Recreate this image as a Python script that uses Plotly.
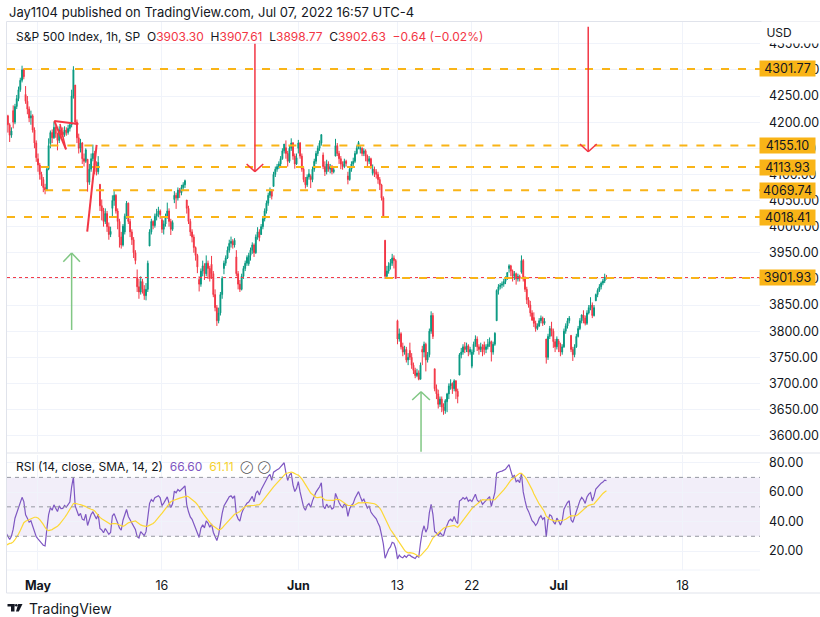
import numpy as np
import pandas as pd
import plotly.graph_objects as go
from plotly.subplots import make_subplots

# ---------------- data (1h bars, 7 per session) ----------------
dates = ["2022-04-21", "2022-04-22", "2022-04-25", "2022-04-26", "2022-04-27", "2022-04-28", "2022-04-29",
         "2022-05-02", "2022-05-03", "2022-05-04", "2022-05-05", "2022-05-06",
         "2022-05-09", "2022-05-10", "2022-05-11", "2022-05-12", "2022-05-13",
         "2022-05-16", "2022-05-17", "2022-05-18", "2022-05-19", "2022-05-20",
         "2022-05-23", "2022-05-24", "2022-05-25", "2022-05-26", "2022-05-27",
         "2022-05-31", "2022-06-01", "2022-06-02", "2022-06-03",
         "2022-06-06", "2022-06-07", "2022-06-08", "2022-06-09", "2022-06-10",
         "2022-06-13", "2022-06-14", "2022-06-15", "2022-06-16", "2022-06-17",
         "2022-06-21", "2022-06-22", "2022-06-23", "2022-06-24",
         "2022-06-27", "2022-06-28", "2022-06-29", "2022-06-30", "2022-07-01",
         "2022-07-05", "2022-07-06", "2022-07-07"]

day_open = [4489, 4385, 4256, 4279, 4186, 4222, 4253,
            4130, 4159, 4181, 4271, 4129,
            4081, 4035, 3990, 3903, 3963,
            4013, 4052, 4051, 3899, 3928,
            3920, 3942, 3929, 3985, 4077,
            4151, 4150, 4096, 4137,
            4135, 4097, 4148, 4102, 3974,
            3820, 3763, 3765, 3728, 3665,
            3716, 3733, 3774, 3820,
            3920, 3913, 3826, 3785, 3781,
            3792, 3831, 3858]

hour_close = [
    [4505, 4490, 4470, 4450, 4430, 4410, 4394],
    [4370, 4350, 4335, 4330, 4310, 4290, 4272],
    [4225, 4215, 4235, 4250, 4265, 4280, 4296],
    [4255, 4240, 4230, 4215, 4210, 4195, 4175],
    [4220, 4232, 4205, 4212, 4195, 4175, 4183],
    [4200, 4230, 4245, 4262, 4280, 4300, 4287],
    [4240, 4225, 4208, 4212, 4185, 4160, 4132],
    [4118, 4100, 4090, 4075, 4070, 4110, 4155],
    [4180, 4170, 4190, 4178, 4165, 4185, 4175],
    [4176, 4185, 4180, 4188, 4195, 4250, 4300],
    [4200, 4170, 4150, 4160, 4130, 4125, 4147],
    [4085, 4110, 4130, 4140, 4118, 4105, 4123],
    [4040, 4030, 4010, 4025, 4000, 3985, 3991],
    [4050, 4060, 4030, 4010, 3980, 3965, 4001],
    [4020, 4045, 4010, 3990, 3975, 3950, 3935],
    [3885, 3875, 3895, 3880, 3868, 3880, 3930],
    [3990, 4010, 4002, 4020, 4025, 4030, 4023],
    [3995, 4005, 4020, 4030, 4010, 3995, 4008],
    [4060, 4055, 4070, 4065, 4075, 4080, 4088],
    [4035, 4010, 3990, 3980, 3960, 3945, 3923],
    [3890, 3915, 3925, 3910, 3930, 3920, 3901],
    [3910, 3870, 3845, 3820, 3835, 3870, 3901],
    [3930, 3940, 3955, 3968, 3972, 3965, 3974],
    [3910, 3890, 3880, 3905, 3920, 3930, 3941],
    [3945, 3955, 3965, 3950, 3980, 3990, 3979],
    [4000, 4015, 4030, 4045, 4060, 4070, 4058],
    [4100, 4110, 4115, 4120, 4130, 4145, 4158],
    [4140, 4125, 4150, 4160, 4135, 4120, 4132],
    [4160, 4135, 4110, 4090, 4080, 4095, 4101],
    [4090, 4110, 4125, 4140, 4150, 4160, 4176],
    [4115, 4105, 4120, 4110, 4115, 4105, 4109],
    [4155, 4140, 4130, 4120, 4115, 4125, 4121],
    [4090, 4110, 4120, 4125, 4140, 4150, 4161],
    [4150, 4140, 4145, 4135, 4125, 4130, 4116],
    [4110, 4105, 4100, 4090, 4080, 4055, 4018],
    [3905, 3915, 3925, 3930, 3940, 3935, 3901],
    [3785, 3795, 3770, 3760, 3765, 3745, 3750],
    [3750, 3735, 3725, 3715, 3720, 3708, 3735],
    [3760, 3775, 3745, 3755, 3800, 3830, 3790],
    [3690, 3680, 3660, 3670, 3655, 3648, 3667],
    [3680, 3695, 3700, 3690, 3705, 3685, 3675],
    [3755, 3760, 3770, 3765, 3772, 3760, 3765],
    [3760, 3775, 3785, 3770, 3765, 3770, 3760],
    [3765, 3770, 3775, 3780, 3760, 3775, 3796],
    [3878, 3885, 3888, 3890, 3895, 3900, 3912],
    [3925, 3915, 3905, 3910, 3900, 3905, 3901],
    [3935, 3900, 3880, 3860, 3850, 3835, 3821],
    [3815, 3805, 3810, 3820, 3825, 3815, 3819],
    [3750, 3790, 3805, 3800, 3780, 3770, 3785],
    [3775, 3760, 3770, 3800, 3810, 3820, 3825],
    [3765, 3755, 3770, 3790, 3805, 3820, 3831],
    [3825, 3815, 3835, 3845, 3850, 3830, 3845],
    [3870, 3878, 3885, 3892, 3896, 3903.30, 3902.63],
]

hour_high = [
    [4513, 4508, 4495, 4472, 4452, 4432, 4412],
    [4385, 4375, 4355, 4345, 4335, 4312, 4295],
    [4256, 4230, 4240, 4255, 4270, 4285, 4299],
    [4279, 4262, 4248, 4235, 4222, 4215, 4200],
    [4225, 4240, 4234, 4218, 4214, 4198, 4190],
    [4232, 4235, 4252, 4268, 4285, 4308, 4303],
    [4269, 4250, 4230, 4222, 4215, 4190, 4165],
    [4140, 4122, 4105, 4095, 4082, 4115, 4169],
    [4184, 4186, 4200, 4192, 4180, 4192, 4190],
    [4190, 4192, 4190, 4195, 4200, 4262, 4307],
    [4271, 4205, 4178, 4168, 4162, 4140, 4150],
    [4129, 4120, 4140, 4157, 4145, 4125, 4135],
    [4081, 4052, 4036, 4035, 4030, 4008, 4000],
    [4060, 4068, 4062, 4035, 4015, 3990, 4005],
    [4025, 4049, 4046, 4015, 3995, 3980, 3955],
    [3918, 3900, 3905, 3900, 3888, 3892, 3935],
    [3995, 4015, 4012, 4025, 4034, 4038, 4033],
    [4018, 4012, 4025, 4046, 4035, 4015, 4012],
    [4068, 4065, 4075, 4074, 4080, 4085, 4090],
    [4051, 4040, 4015, 3995, 3985, 3962, 3948],
    [3905, 3920, 3935, 3930, 3945, 3935, 3925],
    [3944, 3915, 3880, 3850, 3845, 3875, 3905],
    [3935, 3945, 3962, 3975, 3981, 3976, 3978],
    [3955, 3915, 3898, 3910, 3925, 3935, 3945],
    [3950, 3960, 3970, 3968, 3985, 3999, 3995],
    [4005, 4020, 4035, 4050, 4065, 4075, 4072],
    [4105, 4115, 4120, 4125, 4135, 4150, 4158],
    [4165, 4145, 4155, 4169, 4162, 4140, 4140],
    [4166, 4162, 4140, 4115, 4095, 4100, 4110],
    [4100, 4115, 4130, 4145, 4155, 4165, 4177],
    [4142, 4125, 4128, 4125, 4120, 4118, 4115],
    [4168, 4160, 4145, 4135, 4125, 4130, 4128],
    [4105, 4115, 4125, 4132, 4145, 4155, 4164],
    [4154, 4152, 4150, 4148, 4138, 4135, 4132],
    [4119, 4115, 4110, 4105, 4095, 4082, 4058],
    [3974, 3925, 3932, 3938, 3948, 3945, 3938],
    [3822, 3805, 3798, 3778, 3772, 3770, 3758],
    [3778, 3758, 3740, 3730, 3728, 3725, 3740],
    [3772, 3780, 3778, 3760, 3805, 3838, 3835],
    [3728, 3698, 3688, 3675, 3675, 3662, 3670],
    [3682, 3700, 3708, 3702, 3708, 3706, 3690],
    [3758, 3768, 3775, 3779, 3778, 3775, 3770],
    [3765, 3780, 3792, 3790, 3775, 3778, 3775],
    [3780, 3775, 3785, 3788, 3782, 3780, 3798],
    [3880, 3890, 3892, 3895, 3900, 3905, 3913],
    [3928, 3927, 3918, 3915, 3912, 3910, 3908],
    [3945, 3938, 3905, 3885, 3865, 3858, 3840],
    [3836, 3820, 3815, 3825, 3830, 3828, 3825],
    [3785, 3795, 3810, 3818, 3805, 3785, 3790],
    [3785, 3778, 3775, 3805, 3815, 3825, 3829],
    [3792, 3770, 3775, 3795, 3810, 3825, 3832],
    [3840, 3830, 3840, 3850, 3865, 3855, 3850],
    [3872, 3882, 3890, 3895, 3900, 3910, 3907.61],
]

hour_low = [
    [4485, 4482, 4462, 4440, 4420, 4400, 4393],
    [4360, 4345, 4330, 4320, 4300, 4285, 4267],
    [4215, 4201, 4210, 4230, 4245, 4260, 4275],
    [4250, 4235, 4225, 4210, 4200, 4190, 4175],
    [4186, 4212, 4200, 4198, 4180, 4162, 4170],
    [4188, 4196, 4225, 4240, 4258, 4276, 4282],
    [4235, 4215, 4200, 4195, 4180, 4150, 4124],
    [4105, 4090, 4078, 4066, 4062, 4068, 4108],
    [4150, 4160, 4168, 4170, 4146, 4160, 4168],
    [4171, 4172, 4174, 4176, 4182, 4190, 4245],
    [4195, 4160, 4140, 4142, 4120, 4115, 4122],
    [4067, 4080, 4105, 4125, 4100, 4098, 4100],
    [4030, 4012, 4000, 4005, 3990, 3975, 3980],
    [4020, 4040, 4025, 3995, 3960, 3958, 3962],
    [3985, 4015, 4005, 3980, 3965, 3940, 3928],
    [3875, 3862, 3870, 3872, 3860, 3859, 3875],
    [3963, 3985, 3995, 3998, 4012, 4018, 4015],
    [3988, 3985, 4000, 4015, 4000, 3984, 3992],
    [4045, 4034, 4050, 4055, 4060, 4068, 4074],
    [4025, 4005, 3982, 3970, 3950, 3935, 3911],
    [3876, 3885, 3905, 3898, 3905, 3900, 3895],
    [3900, 3865, 3838, 3810, 3815, 3830, 3862],
    [3909, 3925, 3938, 3950, 3960, 3958, 3960],
    [3905, 3880, 3875, 3878, 3900, 3915, 3925],
    [3925, 3935, 3948, 3942, 3948, 3975, 3972],
    [3984, 3995, 4010, 4025, 4040, 4055, 4052],
    [4077, 4095, 4105, 4110, 4115, 4128, 4140],
    [4130, 4115, 4122, 4145, 4128, 4111, 4118],
    [4140, 4130, 4105, 4085, 4073, 4076, 4090],
    [4074, 4085, 4105, 4120, 4135, 4145, 4155],
    [4110, 4097, 4100, 4105, 4102, 4100, 4102],
    [4135, 4135, 4120, 4110, 4109, 4112, 4115],
    [4081, 4088, 4105, 4115, 4122, 4138, 4148],
    [4140, 4135, 4135, 4125, 4115, 4120, 4110],
    [4098, 4095, 4092, 4082, 4070, 4050, 4018],
    [3900, 3900, 3910, 3918, 3925, 3920, 3900],
    [3775, 3780, 3765, 3752, 3755, 3740, 3735],
    [3745, 3728, 3718, 3710, 3712, 3706, 3708],
    [3735, 3750, 3723, 3740, 3750, 3795, 3785],
    [3685, 3670, 3652, 3655, 3645, 3640, 3642],
    [3645, 3670, 3688, 3680, 3685, 3670, 3662],
    [3716, 3748, 3755, 3758, 3760, 3752, 3755],
    [3729, 3755, 3770, 3762, 3755, 3760, 3752],
    [3755, 3758, 3765, 3770, 3742, 3755, 3772],
    [3820, 3870, 3880, 3882, 3885, 3890, 3898],
    [3912, 3905, 3895, 3898, 3889, 3895, 3895],
    [3910, 3895, 3875, 3852, 3845, 3828, 3820],
    [3808, 3799, 3802, 3808, 3815, 3810, 3812],
    [3738, 3745, 3785, 3790, 3768, 3760, 3765],
    [3760, 3752, 3755, 3768, 3795, 3805, 3815],
    [3760, 3743, 3750, 3768, 3788, 3802, 3815],
    [3815, 3811, 3812, 3832, 3840, 3825, 3828],
    [3858, 3865, 3875, 3880, 3888, 3892, 3898.77],
]

future_days = ["2022-07-08", "2022-07-11", "2022-07-12", "2022-07-13", "2022-07-14", "2022-07-15",
               "2022-07-18", "2022-07-19", "2022-07-20", "2022-07-21", "2022-07-22"]

tick_days = ["2022-05-02", "2022-05-16", "2022-06-01", "2022-06-13", "2022-06-22", "2022-07-01", "2022-07-18"]
tick_text = ["<b>May</b>", "16", "<b>Jun</b>", "13", "22", "<b>Jul</b>", "18"]

level_values = [4301.77, 4155.10, 4113.93, 4069.74, 4018.41, 3901.93]
level_start = [None, ("2022-05-03", 0), None, ("2022-05-02", 4), None, ("2022-06-10", 0)]

legend_ohlc = ["3903.30", "3907.61", "3898.77", "3902.63"]
legend_change = "−0.64 (−0.02%)"
rsi_last, rsi_ma_last = "66.60", "61.11"
last_price = 3902.63

BARS = 7
price_range = [3568.8, 4391.6]
rsi_range = [7.1, 85.2]

# ---------------- build series ----------------
all_days = dates + future_days
def bar_index(day, hour=0):
    return all_days.index(day) * BARS + hour

xs, o, h, l, c = [], [], [], [], []
for d, day in enumerate(dates):
    prev = day_open[d]
    for k in range(BARS):
        cc = hour_close[d][k]
        oo = prev
        xs.append(bar_index(day, k))
        o.append(oo)
        c.append(cc)
        h.append(max(hour_high[d][k], oo, cc))
        l.append(min(hour_low[d][k], oo, cc))
        prev = cc

closes = np.array(c, float)

def rsi_wilder(vals, n=14):
    d = np.diff(vals)
    up = np.where(d > 0, d, 0.0)
    dn = np.where(d < 0, -d, 0.0)
    out = np.full(len(vals), np.nan)
    au, ad = up[:n].mean(), dn[:n].mean()
    out[n] = 100.0 if ad == 0 else 100 - 100 / (1 + au / ad)
    for i in range(n + 1, len(vals)):
        au = (au * (n - 1) + up[i - 1]) / n
        ad = (ad * (n - 1) + dn[i - 1]) / n
        out[i] = 100.0 if ad == 0 else 100 - 100 / (1 + au / ad)
    return out

rsi = rsi_wilder(closes)
rsi_ma = pd.Series(rsi).rolling(14).mean().to_numpy()

may2 = bar_index("2022-05-02")
x_left = may2 - 17.5
x_right = may2 + 407.7

# ---------------- figure ----------------
W, H = 820, 617
ML, MR, MT, MB = 7, 60, 22, 47
PW, PH = W - ML - MR, H - MT - MB

def px(xp):
    return (xp - ML) / PW

def py(yp):
    return (H - MB - yp) / PH

fig = make_subplots(rows=2, cols=1, shared_xaxes=True, vertical_spacing=0)

GREEN, RED = "#089981", "#F23645"
fig.add_trace(go.Candlestick(
    x=xs, open=o, high=h, low=l, close=c,
    increasing=dict(line=dict(color=GREEN, width=1), fillcolor=GREEN),
    decreasing=dict(line=dict(color=RED, width=1), fillcolor=RED),
    whiskerwidth=0, showlegend=False, hoverinfo="skip"), row=1, col=1)

fig.add_trace(go.Scatter(x=xs, y=rsi, mode="lines", line=dict(color="#7E57C2", width=1.2),
                         showlegend=False, hoverinfo="skip"), row=2, col=1)
fig.add_trace(go.Scatter(x=xs, y=rsi_ma, mode="lines", line=dict(color="#FDD835", width=1.2),
                         showlegend=False, hoverinfo="skip"), row=2, col=1)

tick_vals = [bar_index(dd) for dd in tick_days]
GRID = "#F0F3FA"
TXT = "#131722"
FONT = "Inter, Roboto, sans-serif"

fig.update_xaxes(range=[x_left, x_right], tickvals=tick_vals, ticktext=tick_text,
                 showgrid=True, gridcolor=GRID, gridwidth=1, zeroline=False,
                 showline=False, ticks="", rangeslider_visible=False, automargin=False)
fig.update_xaxes(showticklabels=False, row=1, col=1)
fig.update_xaxes(showticklabels=True, tickfont=dict(size=12.5, color=TXT, family=FONT),
                 ticklabelstandoff=6, row=2, col=1)

fig.update_yaxes(side="right", range=price_range, tickvals=list(range(3600, 4400, 50)),
                 tickformat=".2f", showgrid=True, gridcolor=GRID, zeroline=False, automargin=False,
                 tickfont=dict(size=12.5, color=TXT, family=FONT), ticks="",
                 ticklabelstandoff=8, row=1, col=1)
fig.update_yaxes(side="right", range=rsi_range, tickvals=[20, 40, 60, 80], tickformat=".2f",
                 showgrid=True, gridcolor=GRID, zeroline=False, automargin=False,
                 tickfont=dict(size=12.5, color=TXT, family=FONT), ticks="",
                 ticklabelstandoff=8, row=2, col=1)

fig.layout.yaxis.domain = [py(452), 1.0]
fig.layout.yaxis2.domain = [0.0, py(455)]

shapes = []
# RSI band and levels
shapes.append(dict(type="rect", xref="x2 domain", yref="y2", x0=0, x1=1, y0=30, y1=70,
                   fillcolor="rgba(126,87,194,0.10)", line=dict(width=0), layer="below"))
for lv in (70, 50, 30):
    shapes.append(dict(type="line", xref="x2 domain", yref="y2", x0=0, x1=1, y0=lv, y1=lv,
                       line=dict(color="#9598A1", width=1, dash="4px,4px")))
# last price dotted line
shapes.append(dict(type="line", xref="x", yref="y", x0=x_left, x1=x_right, y0=last_price, y1=last_price,
                   line=dict(color=RED, width=1, dash="dot")))
# orange horizontal levels
ORANGE = "#F9B417"
for val, st in zip(level_values, level_start):
    x0 = x_left if st is None else bar_index(*st)
    shapes.append(dict(type="line", xref="x", yref="y", x0=x0, x1=x_right, y0=val, y1=val,
                       line=dict(color=ORANGE, width=2, dash="8px,9px")))

def seg(x0, y0, x1, y1, color, width=1.5):
    shapes.append(dict(type="line", xref="x", yref="y", x0=x0, y0=y0, x1=x1, y1=y1,
                       line=dict(color=color, width=width)))

# drawings: red down arrows
ARROW_RED = "#F23645"
seg(171.5, 4350, 171.5, 4105.2, ARROW_RED)
seg(166.8, 4119.9, 171.5, 4105.2, ARROW_RED)
seg(176.2, 4119.9, 171.5, 4105.2, ARROW_RED)
seg(359.7, 4382.6, 359.7, 4143.4, ARROW_RED)
seg(355.0, 4158.2, 359.7, 4143.4, ARROW_RED)
seg(364.5, 4158.2, 359.7, 4143.4, ARROW_RED)
# green up arrows
ARROW_GREEN = "#81C784"
seg(68.0, 3802.3, 68.0, 3949.6, ARROW_GREEN)
seg(63.3, 3933.0, 68.0, 3949.6, ARROW_GREEN)
seg(72.7, 3933.0, 68.0, 3949.6, ARROW_GREEN)
seg(265.3, 3569.5, 265.3, 3684.2, ARROW_GREEN)
seg(260.3, 3668.3, 265.3, 3684.2, ARROW_GREEN)
seg(270.3, 3668.3, 265.3, 3684.2, ARROW_GREEN)
# red trend sketches
seg(58.2, 4202.2, 71.8, 4196.5, "#F23645", 2)
seg(58.2, 4202.2, 64.8, 4148.0, "#F23645", 2)
seg(61.4, 4196.5, 64.8, 4148.0, "#F23645", 1.5)
seg(76.8, 3990.4, 82.1, 4156.3, "#F23645", 2)

# frame lines (paper, pixel-based)
BORDER = "#E0E3EB"
def pline(x0, y0, x1, y1, color=BORDER, width=1):
    shapes.append(dict(type="line", xref="paper", yref="paper", x0=px(x0), y0=py(y0),
                       x1=px(x1), y1=py(y1), line=dict(color=color, width=width)))
pline(6.5, 21.5, 820, 21.5)
pline(6.5, 21.5, 6.5, 593)
pline(6.5, 593, 820, 593)
pline(7, 453, 820, 453)
pline(7, 570, 760, 570, "#F0F3FA")

# TradingView logo
shapes.append(dict(type="rect", xref="paper", yref="paper", x0=px(7.5), x1=px(14.5), y0=py(604), y1=py(606.5),
                   fillcolor="#131722", line=dict(width=0)))
shapes.append(dict(type="rect", xref="paper", yref="paper", x0=px(11), x1=px(14.5), y0=py(604), y1=py(611.5),
                   fillcolor="#131722", line=dict(width=0)))
shapes.append(dict(type="circle", xref="paper", yref="paper", x0=px(15), x1=px(17.6), y0=py(604), y1=py(606.6),
                   fillcolor="#131722", line=dict(width=0)))
shapes.append(dict(type="path", xref="paper", yref="paper",
                   path=f"M {px(18.2)} {py(604)} L {px(22.5)} {py(604)} L {px(18.8)} {py(611.5)} L {px(16.0)} {py(611.5)} Z",
                   fillcolor="#131722", line=dict(width=0)))

annotations = []
def ann(xp, yp, text, size=12, color=TXT, xanchor="left", **kw):
    annotations.append(dict(xref="paper", yref="paper", x=px(xp), y=py(yp), text=text, showarrow=False,
                            xanchor=xanchor, yanchor="middle", font=dict(size=size, color=color, family=FONT), **kw))

ann(7, 12, "Jay1104 published on TradingView.com, Jul 07, 2022 16:57 UTC-4", size=13)
r = lambda s: f"<span style='color:{RED}'>{s}</span>"
ann(14, 36, "S&amp;P 500 Index, 1h, SP  O" + r(legend_ohlc[0]) + "  H" + r(legend_ohlc[1]) +
    "  L" + r(legend_ohlc[2]) + "  C" + r(legend_ohlc[3]) + "  " + r(legend_change), size=12)
ann(14, 466, "RSI (14, close, SMA, 14, 2)  <span style='color:#7E57C2'>" + rsi_last +
    "</span>  <span style='color:#F5D130'>" + rsi_ma_last +
    "</span>  <span style='color:#555;font-size:9px'>⊘  ⊘</span>", size=12)
ann(761, 32, " USD", size=12, bgcolor="white", width=57, height=19, align="left")
for val in level_values:
    annotations.append(dict(xref="paper", yref="y", x=px(759), y=val, text=f"{val:.2f}", showarrow=False,
                            xanchor="left", yanchor="middle", bgcolor=ORANGE, width=52, height=12, borderpad=1.5,
                            align="center", font=dict(size=12.5, color=TXT, family=FONT)))
ann(27, 608, "TradingView", size=14)

fig.update_layout(width=W, height=H, margin=dict(l=ML, r=MR, t=MT, b=MB, autoexpand=False),
                  paper_bgcolor="white", plot_bgcolor="white", showlegend=False,
                  shapes=shapes, annotations=annotations, font=dict(family=FONT, color=TXT),
                  xaxis_rangeslider_visible=False, hovermode=False)

fig.write_html("out.html", config={"displayModeBar": False, "staticPlot": True},
               post_script="document.body.style.margin='0';document.body.style.overflow='hidden';")
